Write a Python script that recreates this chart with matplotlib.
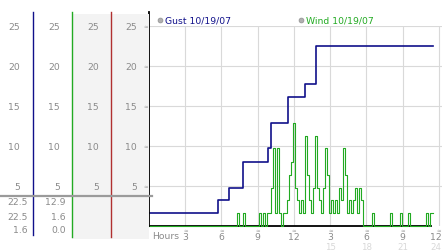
import numpy as np
import matplotlib
matplotlib.use("Agg")
import matplotlib.pyplot as plt
from matplotlib import transforms
from matplotlib.patches import Rectangle

# gust: step changes (hour, mph)
gust_hours = [0, 5.7, 6.6, 7.8, 9.85, 10.1, 11.5, 12.95, 13.85, 23.5]
gust_vals = [1.6, 3.2, 4.8, 8.0, 9.7, 12.9, 16.1, 17.7, 22.5, 22.5]

# wind: one reading every 10 minutes from midnight
wind_step_min = 10
wind_vals = [
    0, 0, 0, 0, 0, 0,            # 0h
    0, 0, 0, 0, 0, 0,            # 1h
    0, 0, 0, 0, 0, 0,            # 2h
    0, 0, 0, 0, 0, 0,            # 3h
    0, 0, 0, 0, 0, 0,            # 4h
    0, 0, 0, 0, 0, 0,            # 5h
    0, 0, 0, 0, 0, 0,            # 6h
    0, 0, 1.6, 0, 0, 1.6,        # 7h
    0, 0, 0, 0, 0, 0,            # 8h
    0, 1.6, 0, 1.6, 0, 1.6,      # 9h
    1.6, 4.8, 9.7, 1.6, 9.7, 1.6,    # 10h
    0, 1.6, 1.6, 3.2, 6.4, 8.0,      # 11h
    12.9, 4.8, 3.2, 1.6, 3.2, 1.6,   # 12h
    11.3, 6.4, 3.2, 1.6, 4.8, 11.3,  # 13h
    4.8, 3.2, 1.6, 4.8, 9.7, 6.4,    # 14h
    1.6, 3.2, 1.6, 3.2, 1.6, 4.8,    # 15h
    3.2, 9.7, 6.4, 1.6, 3.2, 1.6,    # 16h
    3.2, 4.8, 1.6, 4.8, 3.2, 0,      # 17h
    0, 0, 0, 1.6, 0, 0,          # 18h
    0, 0, 0, 0, 0, 0,            # 19h
    1.6, 0, 0, 0, 0, 1.6,        # 20h
    0, 0, 0, 1.6, 0, 0,          # 21h
    0, 0, 0, 0, 0, 0,            # 22h
    1.6, 0, 1.6, 1.6,            # 23h
]
wind_hours = np.arange(len(wind_vals)) * wind_step_min / 60.0

y_ticks = [5, 10, 15, 20, 25]
x_ticks = [3, 6, 9, 12, 15, 18, 21, 24]
x_labels = ["3", "6", "9", "12", "3", "6", "9", "12"]
x_labels_24 = ["", "", "", "", "15", "18", "21", "24"]

navy = "#10108a"
green = "#22aa22"
gray_txt = "#8a8a8a"
fs = 6.7

W, H = 442, 253
fig = plt.figure(figsize=(W / 100, H / 100), dpi=100)

# main chart
ax = fig.add_axes([149 / W, (H - 227) / H, (W - 149) / W, 200 / H])
ax.set_xlim(0, 24.25)
ax.set_ylim(0, 25)
ax.set_xticks(x_ticks)
ax.set_yticks(y_ticks)
ax.tick_params(length=0, labelbottom=False, labelleft=False)
ax.grid(True, color="#d9d9d9", lw=0.8)
ax.set_axisbelow(True)
for s in ["top", "right", "left"]:
    ax.spines[s].set_visible(False)
ax.spines["bottom"].set_color("black")
ax.spines["bottom"].set_linewidth(1.3)
ax.spines["bottom"].set_bounds(0, 23.3)
ax.plot([0, 0], [0, 26.7], color="black", lw=1.3, clip_on=False, zorder=5)

ax.plot(wind_hours, wind_vals, color=green, lw=0.8, drawstyle="steps-mid",
        clip_on=False, zorder=3)
ax.step(gust_hours, gust_vals, where="post", color=navy, lw=1.2, zorder=4)

# legend entries
ax.plot([0.95], [25.8], "o", ms=3.5, mfc="#b0b0b0", mec="#909090", mew=0.5, clip_on=False)
ax.text(1.35, 25.8, "Gust 10/19/07", color=navy, fontsize=fs, va="center")
ax.plot([12.6], [25.8], "o", ms=3.5, mfc="#b0b0b0", mec="#909090", mew=0.5, clip_on=False)
ax.text(13.0, 25.8, "Wind 10/19/07", color=green, fontsize=fs, va="center")

# x labels
xt = ax.get_xaxis_transform()
for x, lab, lab2 in zip(x_ticks, x_labels, x_labels_24):
    ax.text(x, -0.01, "≈", color="#a0a0a0", fontsize=4, ha="center", va="top", transform=xt)
    # last column sits at the right edge, keep it inside
    lx, ha = (x + 0.2, "right") if x == x_ticks[-1] else (x, "center")
    ax.text(lx, -0.03, lab, color=gray_txt, fontsize=fs, ha=ha, va="top", transform=xt)
    if lab2:
        ax.text(lx, -0.078, lab2, color="#d8d8d8", fontsize=6.2, ha=ha, va="top", transform=xt)
ax.text(0.3, -0.025, "Hours", color=gray_txt, fontsize=fs, ha="left", va="top", transform=xt)

# left side panel, layout in pixels
side = fig.add_axes([0, 0, 149 / W, 1])
side.set_xlim(0, 149)
side.set_ylim(H, 0)
side.axis("off")
side.add_patch(Rectangle((72, 15), 39, 225, color="#f3f3f3", lw=0))
side.add_patch(Rectangle((111, 15), 38, 225, color="#f3f3f3", lw=0))
side.plot([33, 33], [13, 236], color=navy, lw=1)
side.plot([72, 72], [13, 238], color=green, lw=1)
side.plot([111, 111], [13, 238], color="#b03030", lw=1)
side.plot([0, 152], [197, 197], color="#9a9a9a", lw=1.6, clip_on=False)

yt = transforms.blended_transform_factory(side.transData, ax.transData)
col_right = [20, 60, 99, 137]
for y in y_ticks:
    for cx in col_right:
        side.text(cx, y, str(y), color=gray_txt, fontsize=fs, ha="right", va="center", transform=yt)
    side.text(145.5, y, "≈", color="#a0a0a0", fontsize=4, ha="center", va="center", transform=yt)

# summary: max / last / min
gust_stats = [max(gust_vals), gust_vals[-1], min(gust_vals)]
wind_stats = [max(wind_vals), wind_vals[-1], min(wind_vals)]
for row_y, g, w in zip([203, 217.5, 231], gust_stats, wind_stats):
    side.text(27.5, row_y, f"{g:.1f}", color=gray_txt, fontsize=fs, ha="right", va="center")
    side.text(66, row_y, f"{w:.1f}", color=gray_txt, fontsize=fs, ha="right", va="center")

fig.savefig("out.png", dpi=100)
